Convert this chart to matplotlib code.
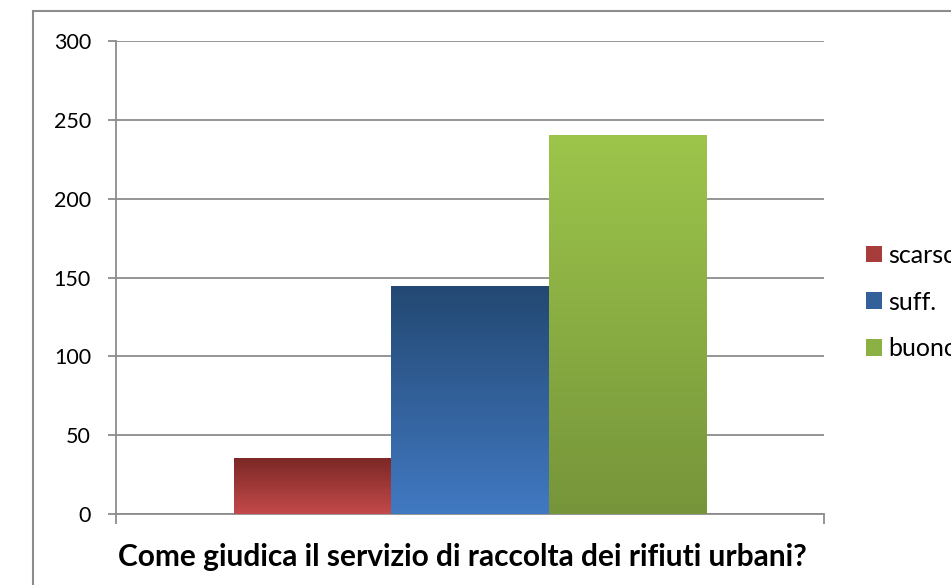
import numpy as np
import matplotlib
matplotlib.use("Agg")
import matplotlib.pyplot as plt
from matplotlib.colors import LinearSegmentedColormap
from matplotlib.patches import Patch, Rectangle

# data
categories = ['scarso', 'suff.', 'buono']
values = [35, 144, 240]
yticks = [0, 50, 100, 150, 200, 250, 300]
title = 'Come giudica il servizio di raccolta dei rifiuti urbani?'

# gradient colours (top, bottom) like the Excel bars
top_cols = ['#7b2826', '#234872', '#9dc54b']
bot_cols = ['#c4494a', '#4179c2', '#76953a']
mid_cols = ['#a83c3a', '#33609a', '#8bb043']

plt.rcParams['font.family'] = ['Lato', 'DejaVu Sans']

fig = plt.figure(figsize=(9.51, 5.85), dpi=100)
ax = fig.add_axes([116/951, 1-514/585, (824-116)/951, (514-41)/585])

# outer frame of the chart area (clipped on right and bottom)
fig.patches.append(Rectangle((33/951, -0.1), 1.2, 1-11/585+0.1, transform=fig.transFigure,
                             fill=False, edgecolor='#8c8c8c', linewidth=1.5))

x = np.arange(len(categories)) - 1.0
bars = ax.bar(x, values, width=1.0, color='none', zorder=3)
for b, top, bot in zip(bars, top_cols, bot_cols):
    cmap = LinearSegmentedColormap.from_list('g', [bot, top])
    grad = np.linspace(0, 1, 256).reshape(-1, 1)
    x0, y0 = b.get_x(), b.get_y()
    ax.imshow(grad, cmap=cmap, origin='lower', aspect='auto', interpolation='bicubic',
              extent=(x0, x0 + b.get_width(), y0, y0 + b.get_height()), zorder=3)

ax.set_xlim(-2.25, 2.25)
ax.set_ylim(0, 300)
ax.set_yticks(yticks)
ax.set_xticks([-2.25, 2.25])
ax.set_xticklabels([])
ax.yaxis.grid(True, color='#8c8c8c', linewidth=1.3)
ax.set_axisbelow(True)
for s in ['top', 'right']:
    ax.spines[s].set_visible(False)
for s in ['left', 'bottom']:
    ax.spines[s].set_color('#8c8c8c')
    ax.spines[s].set_linewidth(1.3)
ax.tick_params(axis='y', length=6, width=1.3, color='#8c8c8c', pad=12, labelsize=15.5)
ax.tick_params(axis='x', length=7, width=1.3, color='#8c8c8c')

handles = [Patch(facecolor=c, edgecolor='none') for c in mid_cols]
fig.legend(handles, categories, loc='center left', bbox_to_anchor=(866/951, 1-302/585),
           frameon=False, fontsize=18, handlelength=0.65, handleheight=0.65,
           handletextpad=0.22, labelspacing=0.95, borderpad=0, borderaxespad=0)

fig.text(0.486, 1-557/585, title, ha='center', va='center', fontsize=21.5, fontweight='bold')

fig.savefig('out.png', dpi=100)
